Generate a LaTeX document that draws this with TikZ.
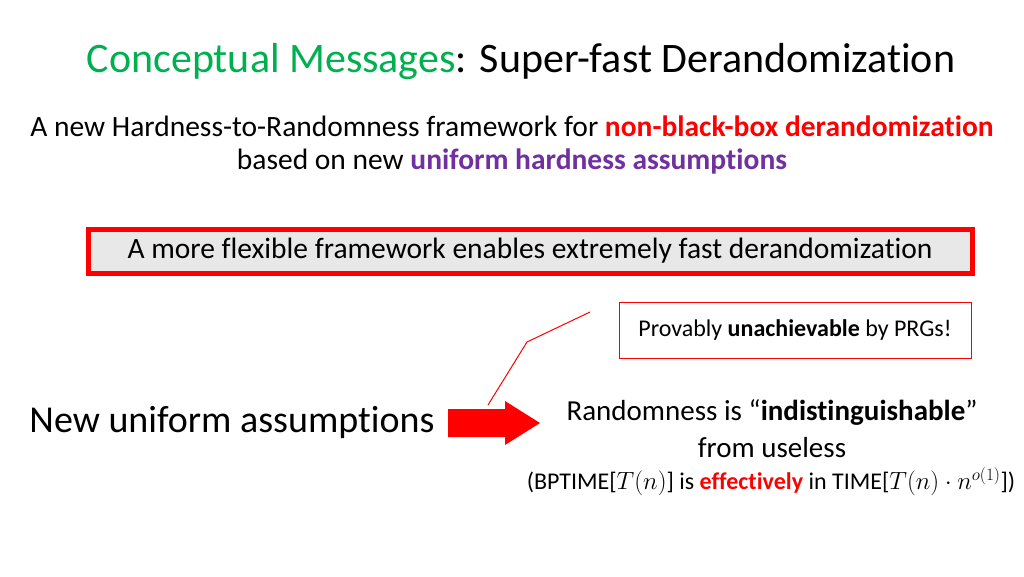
\documentclass[tikz,border=0pt]{standalone}
\usepackage{fontspec}
\setmainfont[Ligatures=NoCommon]{Carlito}
\definecolor{tgreen}{HTML}{00B050}
\definecolor{tpurple}{HTML}{7030A0}
\definecolor{tred}{HTML}{FF0000}
\begin{document}
\begin{tikzpicture}[x=1pt,y=-1pt,
  txt/.style={inner sep=0pt,anchor=center}]
\useasboundingbox (0,0) rectangle (1024,576);
\node[txt,font=\fontsize{42}{48}\selectfont] (title) at (521,62) {\textcolor{tgreen}{Conceptual Messages}: Super-fast Derandomization};
\node[txt,font=\fontsize{29.5}{34}\selectfont] (l1) at (512,126) {A new Hardness-to-Randomness framework for \textcolor{tred}{\textbf{non-black-box derandomization}}};
\node[txt,font=\fontsize{29.5}{34}\selectfont] (l2) at (512,161) {based on new \textcolor{tpurple}{\textbf{uniform hardness assumptions}}};
\node[draw=tred,line width=5pt,fill=black!9,minimum width=884,minimum height=44,font=\fontsize{29.5}{34}\selectfont,inner sep=0pt] (box) at (530,251) {A more flexible framework enables extremely fast derandomization};
\node[draw=tred,line width=1pt,minimum width=352,minimum height=56,font=\fontsize{24}{28}\selectfont,inner sep=0pt] (prg) at (795,330) {Provably \textbf{unachievable} by PRGs!};
\coordinate (c0) at (590,312);
\coordinate (c1) at (527,342);
\coordinate (c2) at (488,405);
\draw[tred,line width=1pt] (c0) -- (c1) -- (c2);
\node[txt,font=\fontsize{38}{44}\selectfont] (new) at (232,422) {New uniform assumptions};
\fill[tred] (448,409) -- (505,409) -- (505,401) -- (540,423) -- (505,445) -- (505,437) -- (448,437) -- cycle;
\node[txt,font=\fontsize{29}{34}\selectfont] (r1) at (772,412) {Randomness is “\textbf{indistinguishable}”};
\node[txt,font=\fontsize{29}{34}\selectfont] (r2) at (772,448) {from useless};
\node[txt,font=\fontsize{24}{28}\selectfont] (r3) at (771,482) {(BPTIME[$T(n)$] is \textcolor{tred}{\textbf{effectively}} in TIME[$T(n)\cdot n^{o(1)}$])};
\end{tikzpicture}
\end{document}
